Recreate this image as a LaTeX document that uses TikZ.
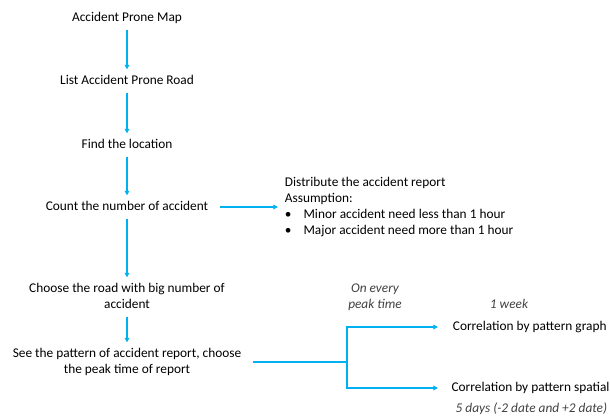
\documentclass[tikz,border=0pt]{standalone}
\usepackage{fontspec}
\setmainfont{Carlito}
\usepackage{tikz}
\usetikzlibrary{arrows.meta}
\definecolor{flowblue}{RGB}{0,176,240}

\begin{document}
\begin{tikzpicture}[x=0.75pt,y=-0.75pt,
  stepnode/.style={font=\fontsize{10}{12}\selectfont, align=center, text depth=2pt, inner xsep=9pt, inner ysep=4pt},
  note/.style={font=\fontsize{10}{12}\selectfont\itshape, align=center, text=black!75},
  flow/.style={draw=flowblue, line width=1pt, -{Triangle[length=3.5pt,width=3.5pt]}}]
\useasboundingbox (0,0) rectangle (610,419);

\node[stepnode] (map) at (127,18) {Accident Prone Map};
\node[stepnode] (road) at (127,81) {List Accident Prone Road};
\node[stepnode] (loc) at (127,145) {Find the location};
\node[stepnode] (count) at (127,207) {Count the number of accident};
\node[stepnode] (choose) at (127,297) {Choose the road with big number of\\accident};
\node[stepnode] (see) at (127,362) {See the pattern of accident report, choose\\the peak time of report};

\node[font=\fontsize{10}{12}\selectfont, align=left, anchor=west, inner xsep=5pt] (dist) at (278,207)
  {Distribute the accident report\\Assumption:\\
   \makebox[14pt][l]{\textbullet}Minor accident need less than 1 hour\\
   \makebox[14pt][l]{\textbullet}Major accident need more than 1 hour};

\coordinate (br) at (347,362);
\node[stepnode, anchor=west, inner xsep=11pt] (graph) at (438,327) {Correlation by pattern graph};
\node[stepnode, anchor=west, inner xsep=10pt] (spatial) at (438,388) {Correlation by pattern spatial};

\node[note] (peak) at (375,297) {On every\\peak time};
\node[note] (week) at (509,304) {1 week};
\node[note, anchor=west] (days) at (451,409) {5 days (-2 date and +2 date)};

\draw[flow] (map) -- (road);
\draw[flow] (road) -- (loc);
\draw[flow] (loc) -- (count);
\draw[flow] (count) -- (choose);
\draw[flow] (choose) -- (see);
\draw[flow] (count) -- (dist);
\draw[draw=flowblue, line width=1pt] (see) -- (br);
\draw[flow] (br) |- (graph.west);
\draw[flow] (br) |- (spatial.west);
\end{tikzpicture}
\end{document}
